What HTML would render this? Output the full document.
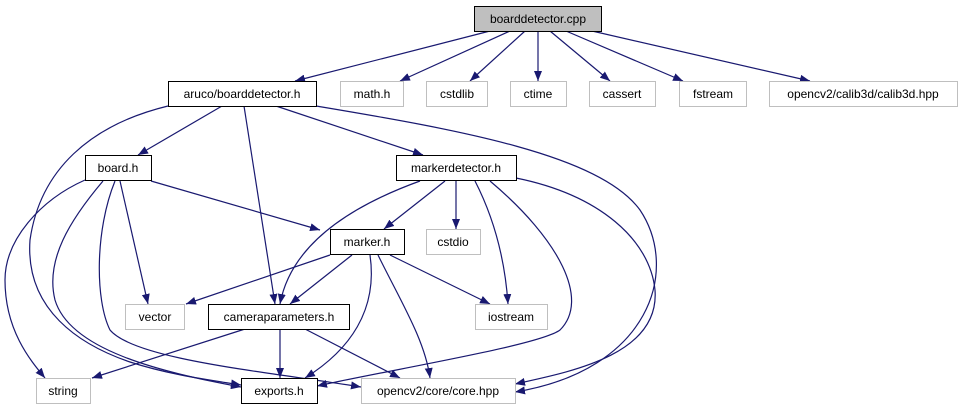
<!DOCTYPE html>
<html><head><meta charset="utf-8"><style>
html,body{margin:0;padding:0;background:#fff;}
svg{display:block;font-family:"Liberation Sans",sans-serif;}
text{font-size:12px;text-anchor:middle;fill:#000;}
</style></head><body>
<svg width="962" height="411" viewBox="0 0 962 411" xmlns="http://www.w3.org/2000/svg">
<defs>
<marker id="a" markerWidth="10" markerHeight="8" refX="10" refY="4" orient="auto" markerUnits="userSpaceOnUse">
<path d="M0,0 L10,4 L0,8 Z" fill="#191970"/>
</marker>
</defs>
<g fill="none" stroke="#191970" stroke-width="1.2" marker-end="url(#a)">
<path d="M490,31 L295,81"/>
<path d="M510,31 L400,81"/>
<path d="M525,31 L470,81"/>
<path d="M538,31 L538,81"/>
<path d="M550,31 L610,81"/>
<path d="M566,31 L683,81"/>
<path d="M592,31 L810,81"/>
<path d="M222,106 L138,155"/>
<path d="M244,106 L275,304"/>
<path d="M276,106 L423,155"/>
<path d="M316,106 C460,130 600,155 640,210 C680,270 650,370 515,392"/>
<path d="M168,106 C90,125 40,170 30,240 C25,310 80,345 130,362 C170,375 210,380 241,385"/>
<path d="M85,180 C40,200 5,240 5,280 C5,330 30,360 45,378"/>
<path d="M103,181 C70,220 45,260 55,300 C70,350 160,372 241,387"/>
<path d="M115,181 C95,230 95,300 110,330 C135,360 270,372 361,387"/>
<path d="M120,181 L148,304"/>
<path d="M151,181 L320,230"/>
<path d="M420,181 C340,210 290,250 280,304"/>
<path d="M445,181 L384,229"/>
<path d="M456,181 L456,229"/>
<path d="M475,181 C495,220 505,260 508,304"/>
<path d="M490,181 C560,240 590,300 560,330 C540,345 400,368 317,386"/>
<path d="M516,178 C600,195 650,240 655,290 C660,355 570,372 515,384"/>
<path d="M330,255 L186,304"/>
<path d="M352,255 L290,304"/>
<path d="M370,255 C378,310 350,350 305,378"/>
<path d="M378,255 C400,300 425,340 430,378"/>
<path d="M390,255 L490,304"/>
<path d="M245,329 L92,378"/>
<path d="M280,329 L280,378"/>
<path d="M305,329 L400,378"/>
</g>
<g stroke-width="1">
<rect x="474.5" y="6.5" width="127" height="25" fill="#bfbfbf" stroke="#000"/>
<rect x="168.5" y="81.5" width="148" height="25" fill="#fff" stroke="#000"/>
<rect x="340.5" y="81.5" width="63" height="25" fill="#fff" stroke="#bfbfbf"/>
<rect x="426.5" y="81.5" width="61" height="25" fill="#fff" stroke="#bfbfbf"/>
<rect x="510.5" y="81.5" width="56" height="25" fill="#fff" stroke="#bfbfbf"/>
<rect x="589.5" y="81.5" width="66" height="25" fill="#fff" stroke="#bfbfbf"/>
<rect x="679.5" y="81.5" width="67" height="25" fill="#fff" stroke="#bfbfbf"/>
<rect x="769.5" y="81.5" width="188" height="25" fill="#fff" stroke="#bfbfbf"/>
<rect x="85.5" y="155.5" width="66" height="25" fill="#fff" stroke="#000"/>
<rect x="396.5" y="155.5" width="120" height="25" fill="#fff" stroke="#000"/>
<rect x="330.5" y="229.5" width="74" height="25" fill="#fff" stroke="#000"/>
<rect x="426.5" y="229.5" width="54" height="25" fill="#fff" stroke="#bfbfbf"/>
<rect x="125.5" y="304.5" width="59" height="25" fill="#fff" stroke="#bfbfbf"/>
<rect x="208.5" y="304.5" width="141" height="25" fill="#fff" stroke="#000"/>
<rect x="475.5" y="304.5" width="72" height="25" fill="#fff" stroke="#bfbfbf"/>
<rect x="36.5" y="378.5" width="54" height="25" fill="#fff" stroke="#bfbfbf"/>
<rect x="241.5" y="378.5" width="76" height="25" fill="#fff" stroke="#000"/>
<rect x="361.5" y="378.5" width="154" height="25" fill="#fff" stroke="#bfbfbf"/>
</g>
<text x="538" y="23">boarddetector.cpp</text>
<text x="242" y="98">aruco/boarddetector.h</text>
<text x="372" y="98">math.h</text>
<text x="457" y="98">cstdlib</text>
<text x="538" y="98">ctime</text>
<text x="622" y="98">cassert</text>
<text x="713" y="98">fstream</text>
<text x="863" y="98">opencv2/calib3d/calib3d.hpp</text>
<text x="118" y="172">board.h</text>
<text x="456" y="172">markerdetector.h</text>
<text x="367" y="246">marker.h</text>
<text x="453" y="246">cstdio</text>
<text x="155" y="321">vector</text>
<text x="279" y="321">cameraparameters.h</text>
<text x="511" y="321">iostream</text>
<text x="63" y="395">string</text>
<text x="279" y="395">exports.h</text>
<text x="438" y="395">opencv2/core/core.hpp</text>
</svg>
</body></html>
